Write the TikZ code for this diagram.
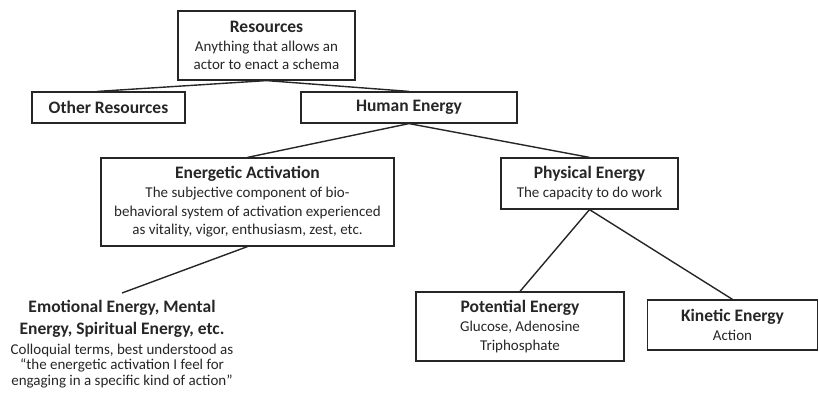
\documentclass[tikz,border=0pt]{standalone}
\usepackage{fontspec}
\setmainfont{Carlito}
\usepackage{tikz}
\usetikzlibrary{calc}
\usetikzlibrary{positioning}
\definecolor{ink}{HTML}{262626}
\newcommand{\sub}{\fontsize{15}{18.5}\selectfont}
\newcommand{\ttl}[1]{{\fontsize{17.5}{21}\selectfont\bfseries #1}}
\tikzstyle{block} = [draw=ink, rectangle, line width=1.2pt, inner sep=0pt,
    align=center, text=ink, font=\sub]
\tikzstyle{plain} = [rectangle, inner sep=0pt, align=center, text=ink, font=\sub]
\tikzstyle{link} = [draw=ink, line width=1.4pt]

\begin{document}
\begin{tikzpicture}[x=1pt,y=-1pt]

    \useasboundingbox (0,0) rectangle (819,395);

    \node[block, minimum width=177pt, minimum height=69pt] at (266.5,45.5) (res)
        {\ttl{Resources}\\[0.5pt] Anything that allows an\\ actor to enact a schema};
    \node[block, minimum width=153pt, minimum height=31pt] at (108.5,107.5) (other)
        {\ttl{Other Resources}};
    \node[block, minimum width=216pt, minimum height=31pt] at (409,107.5) (human)
        {\ttl{Human Energy}};

    \node[block, minimum width=293pt, minimum height=88pt] at (247.5,202) (act)
        {\ttl{Energetic Activation}\\[0.5pt] The subjective component of bio-\\
         behavioral system of activation experienced\\
         as vitality, vigor, enthusiasm, zest, etc.};
    \node[block, minimum width=177pt, minimum height=51pt] at (589.5,183.5) (phys)
        {\ttl{Physical Energy}\\[0.5pt] The capacity to do work};

    % colloquial terms, no box
    \node[plain, anchor=north] at (122,300) (emo)
        {\ttl{Emotional Energy, Mental}\\[3.5pt] \ttl{Energy, Spiritual Energy, etc.}\\[1pt]
         Colloquial terms, best understood as\\[-3pt]
         ``the energetic activation I feel for\\[-3pt]
         engaging in a specific kind of action''};
    \coordinate (emotop) at ($(emo.north)+(0,-7)$);

    \node[block, minimum width=208pt, minimum height=69pt] at (520,326.5) (pot)
        {\ttl{Potential Energy}\\[0.5pt] Glucose, Adenosine\\ Triphosphate};
    \node[block, minimum width=170pt, minimum height=50pt] at (732.5,325) (kin)
        {\ttl{Kinetic Energy}\\[0.5pt] Action};

    \draw[link] (res.south) -- ($(other.north)+(-11,0)$);
    \draw[link] (res.south) -- (human.north);
    \draw[link] (human.south) -- (act.north);
    \draw[link] (human.south) -- (phys.north);
    \draw[link] (act.south) -- (emotop);
    \draw[link] (phys.south) -- (pot.north);
    \draw[link] (phys.south) -- (kin.north);
\end{tikzpicture}
\end{document}
